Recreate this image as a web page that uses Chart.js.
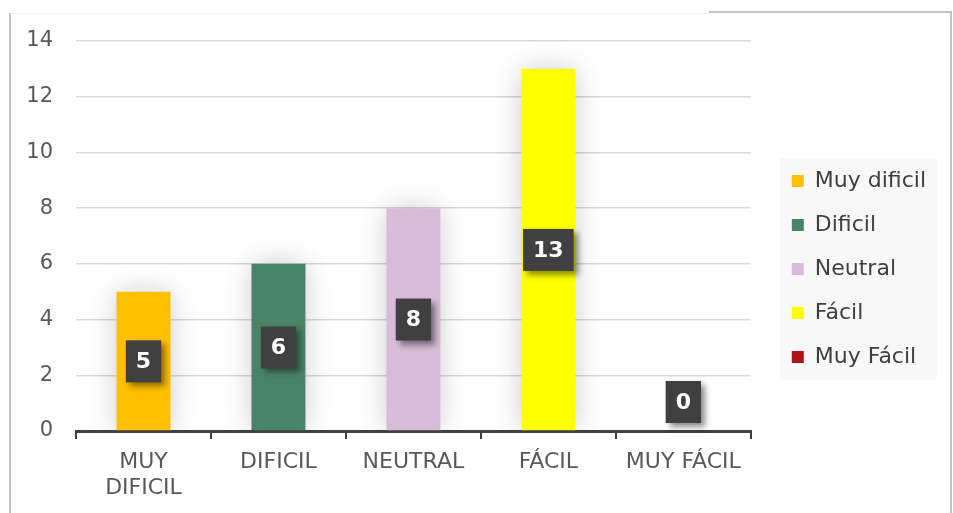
<!DOCTYPE html>
<html>
<head>
<meta charset="utf-8">
<script src="https://cdn.jsdelivr.net/npm/chart.js@4.4.1/dist/chart.umd.min.js"></script>
<style>
  html, body { margin: 0; padding: 0; background: #fff; }
  #wrap { position: relative; width: 953px; height: 513px; }
</style>
</head>
<body>
<div id="wrap"><canvas id="chart" width="953" height="513"></canvas></div>
<script>
// Categories on the x axis and the legend names (one series per category)
const categories = ['MUY|DIFICIL', 'DIFICIL', 'NEUTRAL', 'FÁCIL', 'MUY FÁCIL'];
const seriesNames = ['Muy dificil', 'Dificil', 'Neutral', 'Fácil', 'Muy Fácil'];
const seriesValues = [5, 6, 8, 13, 0];
const seriesColors = ['#ffc000', '#4a8468', '#d8bcd8', '#ffff00', '#b01515'];
const yTicks = [0, 2, 4, 6, 8, 10, 12, 14];

const fontFamily = '"DejaVu Sans", sans-serif';

// Each series only has a value in its own category
const datasets = seriesNames.map((name, i) => ({
  label: name,
  data: categories.map((c, j) => (j === i ? seriesValues[i] : null)),
  backgroundColor: seriesColors[i],
  borderWidth: 0
}));

// Outer frame pieces of the original chart box + legend background
const framePlugin = {
  id: 'frame',
  beforeDraw(chart) {
    const ctx = chart.ctx;
    ctx.save();
    ctx.strokeStyle = '#f2f2f2';
    ctx.lineWidth = 1;
    ctx.beginPath();
    ctx.moveTo(10, 13.5); ctx.lineTo(709, 13.5);
    ctx.stroke();
    ctx.strokeStyle = '#c4c4c4';
    ctx.lineWidth = 2;
    ctx.beginPath();
    ctx.moveTo(10, 13); ctx.lineTo(10, 513);
    ctx.moveTo(709, 12); ctx.lineTo(951, 12); ctx.lineTo(951, 513);
    ctx.stroke();

    const lg = chart.legend;
    if (lg && lg.legendHitBoxes && lg.legendHitBoxes.length) {
      const hb = lg.legendHitBoxes;
      const x0 = hb[0].left - 12;
      const cy = (hb[0].top + hb[hb.length - 1].top + hb[0].height) / 2;
      const h = hb.length * 44 + 1;
      ctx.fillStyle = '#f8f8f8';
      ctx.fillRect(x0, cy - h / 2, 157, h);
    }
    ctx.restore();
  }
};

// Soft shadow around the bars
const barShadowPlugin = {
  id: 'barShadow',
  beforeDatasetsDraw(chart) {
    const ctx = chart.ctx;
    ctx.save();
    ctx.shadowColor = 'rgba(0,0,0,0.2)';
    ctx.shadowBlur = 28;
    ctx.shadowOffsetX = 0;
    ctx.shadowOffsetY = 0;
  },
  afterDatasetsDraw(chart) {
    chart.ctx.restore();
  }
};

// Dark value boxes in the middle of each bar
const valueBoxPlugin = {
  id: 'valueBoxes',
  afterDatasetsDraw(chart) {
    const ctx = chart.ctx;
    const yScale = chart.scales.y;
    ctx.save();
    ctx.font = 'bold 22px ' + fontFamily;
    ctx.textAlign = 'center';
    ctx.textBaseline = 'middle';
    chart.data.datasets.forEach((ds, i) => {
      const meta = chart.getDatasetMeta(i);
      meta.data.forEach((bar, j) => {
        const v = ds.data[j];
        if (v === null || v === undefined) return;
        const base = yScale.getPixelForValue(0);
        let cy = (bar.y + base) / 2;
        if (v === 0) cy = base - 29;
        const txt = String(v);
        const w = ctx.measureText(txt).width + 20;
        const h = 42;
        ctx.save();
        ctx.shadowColor = 'rgba(0,0,0,0.45)';
        ctx.shadowBlur = 6;
        ctx.shadowOffsetX = 4;
        ctx.shadowOffsetY = 4;
        ctx.fillStyle = '#404040';
        ctx.fillRect(bar.x - w / 2, cy - h / 2, w, h);
        ctx.restore();
        ctx.fillStyle = '#ffffff';
        ctx.fillText(txt, bar.x, cy + 1);
      });
    });
    ctx.restore();
  }
};

new Chart(document.getElementById('chart'), {
  type: 'bar',
  data: {
    labels: categories.map(c => c.split('|')),
    datasets: datasets
  },
  options: {
    responsive: false,
    animation: false,
    devicePixelRatio: 1,
    layout: {
      padding: { left: 12, right: 17, top: 41, bottom: 16 }
    },
    datasets: {
      bar: {
        skipNull: true,
        categoryPercentage: 1.0,
        barPercentage: 0.4
      }
    },
    plugins: {
      legend: {
        position: 'right',
        labels: {
          boxWidth: 12,
          boxHeight: 12,
          padding: 22,
          color: '#404040',
          font: { family: fontFamily, size: 22 }
        }
      },
      tooltip: { enabled: false }
    },
    scales: {
      x: {
        afterFit(axis) { axis.height = 66; },
        grid: {
          offset: true,
          drawOnChartArea: false,
          color: '#404040',
          lineWidth: 2,
          tickLength: 8
        },
        border: { color: '#404040', width: 3 },
        ticks: {
          color: '#595959',
          padding: 10,
          font: { family: fontFamily, size: 22 },
          maxRotation: 0
        }
      },
      y: {
        min: 0,
        max: 14,
        afterFit(axis) { axis.width = 64; },
        afterBuildTicks(axis) {
          axis.ticks = yTicks.map(v => ({ value: v }));
        },
        grid: {
          color: '#d9d9d9',
          lineWidth: 1.5,
          drawTicks: false
        },
        border: { display: false },
        ticks: {
          color: '#595959',
          padding: 23,
          font: { family: fontFamily, size: 21 }
        }
      },
      // hidden spacer between the plot and the legend
      gap: {
        display: false,
        position: 'right',
        type: 'linear',
        afterFit(axis) { axis.width = 19; }
      }
    }
  },
  plugins: [framePlugin, barShadowPlugin, valueBoxPlugin]
});
</script>
</body>
</html>
